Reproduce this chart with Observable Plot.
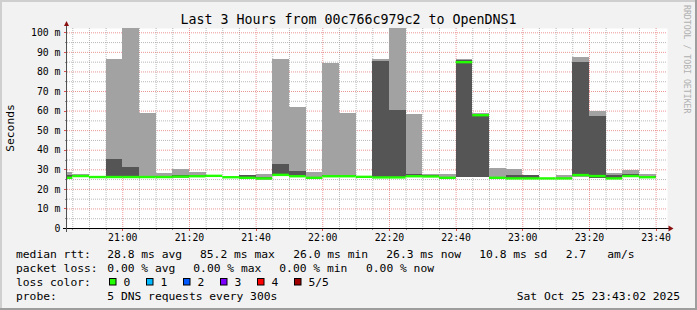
<!DOCTYPE html>
<html>
<head>
<meta charset="utf-8">
<script src="https://cdn.jsdelivr.net/npm/d3@7"></script>
<script src="https://cdn.jsdelivr.net/npm/@observablehq/plot@0.6"></script>
<style>
  html, body { margin: 0; padding: 0; background: #f2f2f2; }
  #chart { width: 697px; height: 310px; position: relative; overflow: hidden; }
  svg { display: block; }
  text { font-family: "DejaVu Sans Mono", monospace; }
</style>
</head>
<body>
<div id="chart"></div>
<script>
// ---------------- data ----------------
const title = "Last 3 Hours from 00c766c979c2 to OpenDNS1";
const yLabel = "Seconds";
const watermark = "RRDTOOL / TOBI OETIKER";

// 5-minute buckets (end time of each bucket)
const bucketEnd = ["20:45","20:50","20:55","21:00","21:05","21:10","21:15","21:20","21:25","21:30",
                   "21:35","21:40","21:45","21:50","21:55","22:00","22:05","22:10","22:15","22:20",
                   "22:25","22:30","22:35","22:40","22:45","22:50","22:55","23:00","23:05","23:10",
                   "23:15","23:20","23:25","23:30","23:35","23:40"];
// sorted ping RTTs in ms (5 pings per bucket): min, 2nd, median, 4th, max
const pingMin = [25.6,26.5,26.1,26.0,26.0,26.0,26.0,25.5,26.3,26.6,
                 26.0,25.6,24.7,26.4,26.3,25.6,26.4,26.4,26.2,25.9,
                 25.9,26.4,26.3,25.6,26.0,26.0,25.7,25.4,25.4,25.5,
                 25.4,26.3,25.6,24.8,26.4,25.7];
const ping2   = [25.7,26.6,26.2,26.1,26.1,26.1,26.1,25.9,26.5,26.7,
                 26.1,25.7,25.2,26.9,26.5,25.7,26.5,26.5,26.3,26.0,
                 26.0,26.5,26.4,25.7,26.1,26.1,25.8,25.5,25.5,25.5,
                 25.5,26.5,25.8,25.3,26.5,25.9];
const median  = [25.9,26.8,26.3,26.3,26.3,26.3,26.3,26.5,26.7,26.9,
                 26.2,25.9,25.6,27.4,26.7,25.9,26.7,26.7,26.4,26.1,
                 26.1,26.7,26.6,25.9,85.0,57.9,25.9,25.6,25.6,25.6,
                 25.6,27.3,26.8,25.6,26.8,26.2];
const ping4   = [27.1,27.3,26.4,35.2,31.3,26.8,26.5,27.2,26.9,27.1,
                 26.3,26.9,26.0,32.9,29.3,26.1,26.9,26.9,26.5,85.4,
                 60.2,27.4,27.0,26.1,85.6,58.1,26.0,27.0,27.0,25.7,
                 25.8,84.6,57.2,26.9,27.4,26.5];
const pingMax = [28.4,27.4,26.5,86.3,104.0,58.8,27.9,30.0,28.4,27.3,
                 26.4,27.0,27.8,86.2,61.7,28.8,84.2,58.8,26.6,86.2,
                 104.0,58.2,27.5,27.8,86.5,58.6,30.8,30.0,27.2,25.8,
                 26.9,87.6,59.6,28.1,29.8,27.8];

const yTickValues = [0,10,20,30,40,50,60,70,80,90,100];
const yTickLabels = ["0","10 m","20 m","30 m","40 m","50 m","60 m","70 m","80 m","90 m","100 m"];
const xTickLabels = ["21:00","21:20","21:40","22:00","22:20","22:40","23:00","23:20","23:40"];

const rttLabel = "median rtt:";
const rttStats = ["28.8 ms avg","85.2 ms max","26.0 ms min","26.3 ms now","10.8 ms sd","2.7","am/s"];
const lossLabel = "packet loss:";
const lossStats = ["0.00 % avg","0.00 % max","0.00 % min","0.00 % now"];
const lossColorLabel = "loss color:";
const lossColors = ["#22ff00","#00b8ff","#0059ff","#7e00ff","#ff0000","#a00000"];
const lossLabels = ["0","1","2","3","4","5/5"];
const probeLabel = "probe:";
const probeText = "5 DNS requests every 300s";
const dateText = "Sat Oct 25 23:43:02 2025";

// ---------------- build ----------------
const at = (s, sec = 0) => { const [h, m] = s.split(":").map(Number); return new Date(2025, 9, 25, h, m, sec); };
const data = bucketEnd.map((e, i) => ({
  end: at(e), start: new Date(+at(e) - 5 * 60000),
  min: pingMin[i], p2: ping2[i], med: median[i], p4: ping4[i], max: pingMax[i]
}));
const xStart = at("20:43", 25);
const xEnd = new Date(+xStart + 3 * 3600e3);
const majorX = xTickLabels.map(s => at(s));
const minorX = d3.timeMinute.every(5).range(xStart, xEnd).filter(d => d.getMinutes() % 20 !== 0);
const minorY = d3.range(5, 100, 10);

const W = 697, H = 310, mL = 67, mR = 30, mT = 28, mB = 82;

const chart = Plot.plot({
  width: W, height: H,
  marginLeft: mL, marginRight: mR, marginTop: mT, marginBottom: mB,
  style: { background: "transparent", fontFamily: "DejaVu Sans Mono", fontSize: "9.8px", color: "#000", overflow: "visible" },
  x: { type: "time", domain: [xStart, xEnd], clamp: true, axis: null },
  y: { type: "linear", domain: [0, 102.2], clamp: true, axis: null },
  marks: [
    Plot.frame({ fill: "#ffffff", stroke: "none" }),
    Plot.ruleY(minorY, { stroke: "#9a9a9a", strokeOpacity: 0.7, strokeDasharray: "1,1" }),
    Plot.ruleX(minorX, { stroke: "#9a9a9a", strokeOpacity: 0.7, strokeDasharray: "1,1" }),
    Plot.ruleY(yTickValues.slice(1), { stroke: "#de5050", strokeOpacity: 0.6, strokeDasharray: "1,1" }),
    Plot.ruleX(majorX, { stroke: "#de5050", strokeOpacity: 0.6, strokeDasharray: "1,1" }),
    Plot.rect(data, { x1: "start", x2: "end", y1: "min", y2: "max", fill: "#a2a2a2", shapeRendering: "crispEdges" }),
    Plot.rect(data, { x1: "start", x2: "end", y1: "p2", y2: "p4", fill: "#555555", shapeRendering: "crispEdges" }),
    Plot.ruleY(data, { y: "med", x1: "start", x2: "end", stroke: "#22ff00", strokeWidth: 2.4 }),
    Plot.text(yTickValues, { x: () => xStart, y: d => d, text: (d, i) => yTickLabels[i], textAnchor: "end", dx: -7, fontSize: 9.8, fill: "#000" }),
    Plot.text(majorX, { x: d => d, y: () => 0, text: (d, i) => xTickLabels[i], dy: 9.5, fontSize: 9.8, fill: "#000" })
  ]
});
document.getElementById("chart").appendChild(chart);

const svg = d3.select(chart);
const xs = chart.scale("x"), ys = chart.scale("y");
const X = d => xs.apply(d), Y = v => ys.apply(v);
const y0 = Y(0), plotRight = W - mR;

// axis tick marks
const tg = svg.append("g");
minorX.forEach(d => tg.append("line").attr("x1", Math.round(X(d)) + 0.5).attr("x2", Math.round(X(d)) + 0.5)
  .attr("y1", y0).attr("y2", y0 + 2).attr("stroke", "#8f8f8f"));
majorX.forEach(d => tg.append("line").attr("x1", Math.round(X(d)) + 0.5).attr("x2", Math.round(X(d)) + 0.5)
  .attr("y1", y0).attr("y2", y0 + 3).attr("stroke", "#de5050"));
minorY.forEach(v => tg.append("line").attr("y1", Math.round(Y(v)) + 0.5).attr("y2", Math.round(Y(v)) + 0.5)
  .attr("x1", mL - 2).attr("x2", mL).attr("stroke", "#8f8f8f"));
yTickValues.slice(1).forEach(v => tg.append("line").attr("y1", Math.round(Y(v)) + 0.5).attr("y2", Math.round(Y(v)) + 0.5)
  .attr("x1", mL - 3).attr("x2", mL).attr("stroke", "#de5050"));

// axes with arrows
svg.append("line").attr("x1", mL - 4).attr("x2", plotRight + 2).attr("y1", y0 + 0.5).attr("y2", y0 + 0.5).attr("stroke", "#000");
svg.append("line").attr("x1", mL - 0.5).attr("x2", mL - 0.5).attr("y1", y0 + 4).attr("y2", mT - 2).attr("stroke", "#505050");
svg.append("path").attr("d", `M${plotRight + 1.5},${y0 - 2.5}L${plotRight + 6.5},${y0 + 0.5}L${plotRight + 1.5},${y0 + 3.5}Z`).attr("fill", "#8a0f0f");
svg.append("path").attr("d", `M${mL - 3},${mT - 2}L${mL - 0.5},${mT - 7}L${mL + 2},${mT - 2}Z`).attr("fill", "#8a0f0f");

// title & axis label & watermark
svg.append("text").attr("x", W / 2).attr("y", 24).attr("text-anchor", "middle")
  .style("font-size", "13.3px").attr("fill", "#000").text(title);
svg.append("text").attr("transform", "translate(14,128) rotate(-90)").attr("text-anchor", "middle")
  .style("font-size", "11.3px").attr("fill", "#000").text(yLabel);
svg.append("text").attr("transform", "translate(684,5) rotate(90)").attr("text-anchor", "start")
  .style("font-size", "8.2px").attr("fill", "#b0b0b0").text(watermark);

// legend
const lg = svg.append("g").style("font-size", "11.3px").attr("fill", "#000").attr("text-anchor", "start");
const txt = (x, y, s, anchor = "start") => lg.append("text").attr("x", x).attr("y", y).attr("text-anchor", anchor).text(s);
txt(16, 258, rttLabel);
[107.3, 200, 293.3, 386.3, 479.3, 565.7, 607.3].forEach((x, i) => txt(x, 258, rttStats[i]));
txt(16, 272, lossLabel);
[107.3, 193.3, 279.3, 366].forEach((x, i) => txt(x, 272, lossStats[i]));
txt(16, 286, lossColorLabel);
lossColors.forEach((c, i) => {
  const bx = 109 + 37 * i;
  lg.append("rect").attr("x", bx + 0.5).attr("y", 278.5).attr("width", 6.5).attr("height", 6.5)
    .attr("fill", c).attr("stroke", "#000").attr("stroke-width", 1);
  txt(bx + 14.5, 286, lossLabels[i]);
});
txt(16, 300, probeLabel);
txt(107.3, 300, probeText);
txt(680, 300, dateText, "end");

// outer frame (3D shading)
svg.append("rect").attr("x", 0).attr("y", 0).attr("width", W).attr("height", 2).attr("fill", "#cfcfcf");
svg.append("rect").attr("x", 0).attr("y", 0).attr("width", 2).attr("height", H).attr("fill", "#cfcfcf");
svg.append("rect").attr("x", 0).attr("y", H - 2).attr("width", W).attr("height", 2).attr("fill", "#9e9e9e");
svg.append("rect").attr("x", W - 2).attr("y", 0).attr("width", 2).attr("height", H).attr("fill", "#9e9e9e");
</script>
</body>
</html>
